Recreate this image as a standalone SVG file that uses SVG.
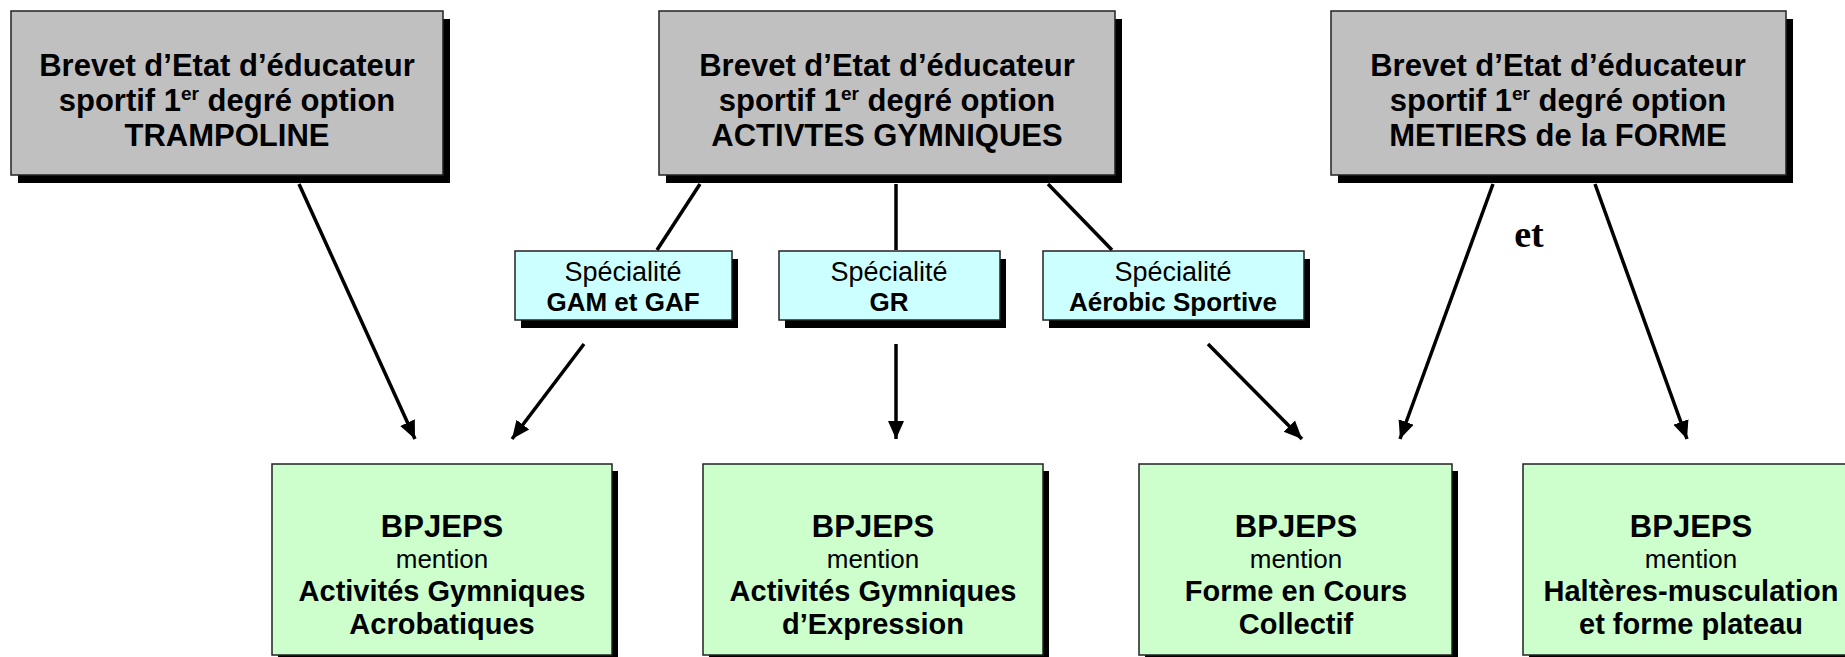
<svg xmlns="http://www.w3.org/2000/svg" width="1845" height="657" viewBox="0 0 1845 657">
<style>
.sh{fill:#000}
.gray{fill:#C0C0C0;stroke:#222;stroke-width:1.5}
.cyan{fill:#CCFFFF;stroke:#222;stroke-width:1.5}
.green{fill:#CCFFCC;stroke:#222;stroke-width:1.5}
.tb{font-family:"Liberation Sans",Arial,sans-serif;font-weight:bold;font-size:31px;text-anchor:middle;fill:#000}
.sr{font-family:"Liberation Sans",Arial,sans-serif;font-size:27px;text-anchor:middle;fill:#000}
.sb{font-family:"Liberation Sans",Arial,sans-serif;font-weight:bold;font-size:26px;text-anchor:middle;fill:#000}
.bt{font-family:"Liberation Sans",Arial,sans-serif;font-weight:bold;font-size:31px;text-anchor:middle;fill:#000}
.bb{font-family:"Liberation Sans",Arial,sans-serif;font-weight:bold;font-size:29px;text-anchor:middle;fill:#000}
.br{font-family:"Liberation Sans",Arial,sans-serif;font-size:26px;text-anchor:middle;fill:#000}
.ln{stroke:#000;stroke-width:3.5;fill:none}
.ar{stroke:#000;stroke-width:3.5;fill:none;marker-end:url(#ah)}
.et{font-family:"Liberation Serif","Times New Roman",serif;font-weight:bold;font-size:38px;text-anchor:middle;fill:#000}
</style>
<defs>
<marker id="ah" markerUnits="userSpaceOnUse" markerWidth="20" markerHeight="20" viewBox="0 0 20 20" refX="18" refY="10" orient="auto">
<path d="M0,2 L18,10 L0,18 Z" fill="#000"/>
</marker>
</defs>
<rect width="1845" height="657" fill="#fff"/>

<g id="connectors">
<line class="ar" x1="299" y1="184" x2="415" y2="439"/>
<line class="ar" x1="584" y1="344" x2="512" y2="439"/>
<line class="ln" x1="700" y1="184" x2="657" y2="250"/>
<line class="ln" x1="896" y1="184" x2="896" y2="250"/>
<line class="ln" x1="1048" y1="184" x2="1112" y2="250"/>
<line class="ar" x1="896" y1="344" x2="896" y2="439"/>
<line class="ar" x1="1208" y1="344" x2="1302" y2="439"/>
<line class="ar" x1="1493" y1="184" x2="1400" y2="439"/>
<line class="ar" x1="1595" y1="184" x2="1687" y2="439"/>
<text class="et" x="1529" y="247">et</text>
</g>

<g id="be-trampoline">
<rect class="sh" x="18" y="19" width="432" height="164"/>
<rect class="gray" x="11" y="11" width="432" height="164"/>
<text class="tb" x="227" y="76">Brevet d’Etat d’éducateur</text>
<text class="tb" x="227" y="111">sportif 1<tspan font-size="19" dy="-11">er</tspan><tspan dy="11"> degré option</tspan></text>
<text class="tb" x="227" y="146">TRAMPOLINE</text>
</g>

<g id="be-activites-gymniques">
<rect class="sh" x="666" y="19" width="456" height="164"/>
<rect class="gray" x="659" y="11" width="456" height="164"/>
<text class="tb" x="887" y="76">Brevet d’Etat d’éducateur</text>
<text class="tb" x="887" y="111">sportif 1<tspan font-size="19" dy="-11">er</tspan><tspan dy="11"> degré option</tspan></text>
<text class="tb" x="887" y="146">ACTIVTES GYMNIQUES</text>
</g>

<g id="be-metiers-forme">
<rect class="sh" x="1338" y="19" width="455" height="164"/>
<rect class="gray" x="1331" y="11" width="455" height="164"/>
<text class="tb" x="1558" y="76">Brevet d’Etat d’éducateur</text>
<text class="tb" x="1558" y="111">sportif 1<tspan font-size="19" dy="-11">er</tspan><tspan dy="11"> degré option</tspan></text>
<text class="tb" x="1558" y="146">METIERS de la FORME</text>
</g>

<g id="spec-gam-gaf">
<rect class="sh" x="521" y="259" width="217" height="69"/>
<rect class="cyan" x="515" y="251" width="217" height="69"/>
<text class="sr" x="623" y="281">Spécialité</text>
<text class="sb" x="623" y="311">GAM et GAF</text>
</g>

<g id="spec-gr">
<rect class="sh" x="785" y="259" width="221" height="69"/>
<rect class="cyan" x="779" y="251" width="221" height="69"/>
<text class="sr" x="889" y="281">Spécialité</text>
<text class="sb" x="889" y="311">GR</text>
</g>

<g id="spec-aerobic">
<rect class="sh" x="1049" y="259" width="261" height="69"/>
<rect class="cyan" x="1043" y="251" width="261" height="69"/>
<text class="sr" x="1173" y="281">Spécialité</text>
<text class="sb" x="1173" y="311">Aérobic Sportive</text>
</g>

<g id="bpjeps-aga">
<rect class="sh" x="278" y="471" width="340" height="191"/>
<rect class="green" x="272" y="464" width="340" height="191"/>
<text class="bt" x="442" y="537">BPJEPS</text>
<text class="br" x="442" y="568">mention</text>
<text class="bb" x="442" y="601">Activités Gymniques</text>
<text class="bb" x="442" y="634">Acrobatiques</text>
</g>

<g id="bpjeps-age">
<rect class="sh" x="709" y="471" width="340" height="191"/>
<rect class="green" x="703" y="464" width="340" height="191"/>
<text class="bt" x="873" y="537">BPJEPS</text>
<text class="br" x="873" y="568">mention</text>
<text class="bb" x="873" y="601">Activités Gymniques</text>
<text class="bb" x="873" y="634">d’Expression</text>
</g>

<g id="bpjeps-fcc">
<rect class="sh" x="1145" y="471" width="313" height="191"/>
<rect class="green" x="1139" y="464" width="313" height="191"/>
<text class="bt" x="1296" y="537">BPJEPS</text>
<text class="br" x="1296" y="568">mention</text>
<text class="bb" x="1296" y="601">Forme en Cours</text>
<text class="bb" x="1296" y="634">Collectif</text>
</g>

<g id="bpjeps-hm">
<rect class="sh" x="1529" y="471" width="340" height="191"/>
<rect class="green" x="1523" y="464" width="340" height="191"/>
<text class="bt" x="1691" y="537">BPJEPS</text>
<text class="br" x="1691" y="568">mention</text>
<text class="bb" x="1691" y="601">Haltères-musculation</text>
<text class="bb" x="1691" y="634">et forme plateau</text>
</g>
</svg>
